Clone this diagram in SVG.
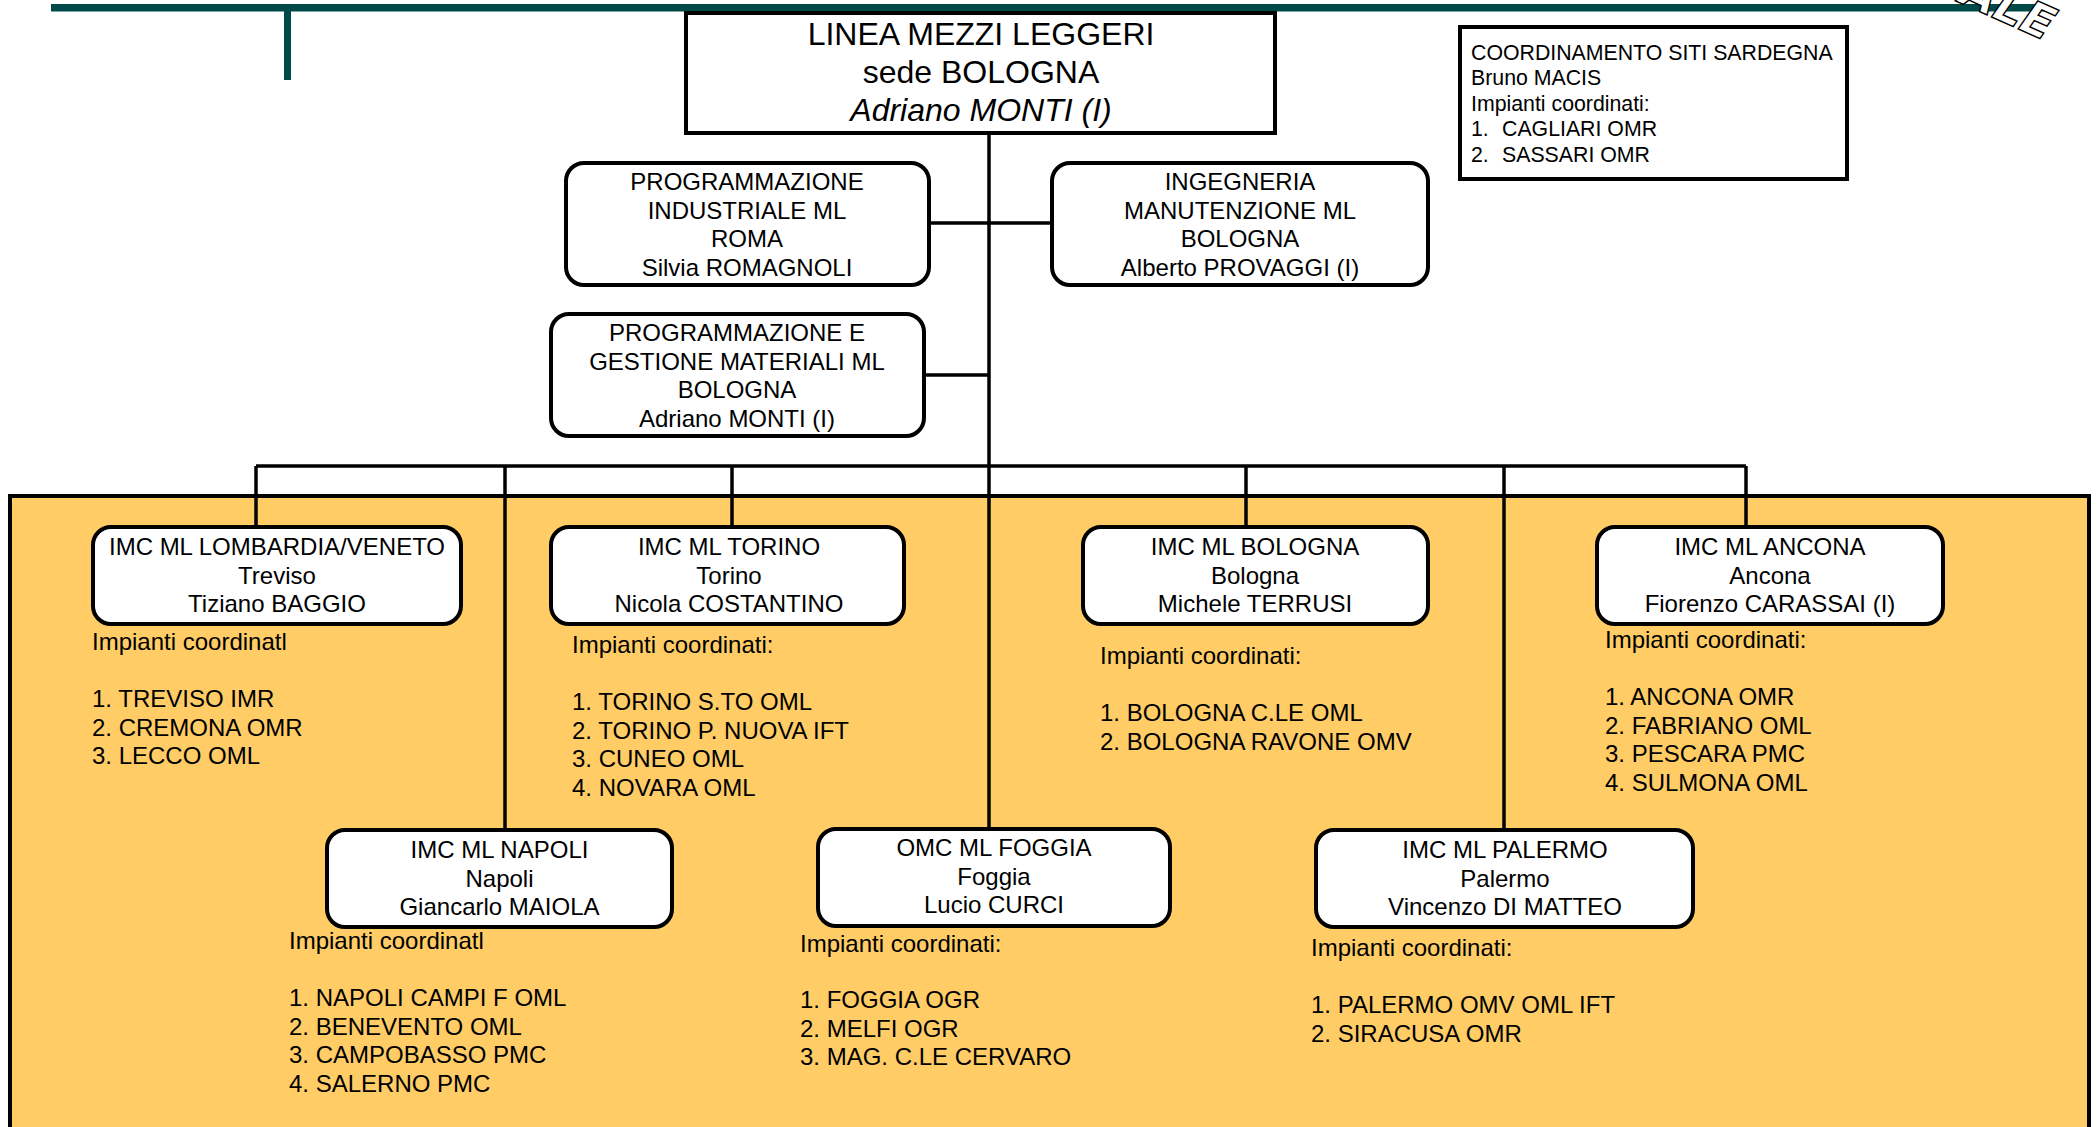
<svg xmlns="http://www.w3.org/2000/svg" width="2099" height="1127" viewBox="0 0 2099 1127">
<style>
  text { font-family: "Liberation Sans", Arial, sans-serif; fill: #000; }
  .t32 { font-size: 32px; text-anchor: middle; }
  .t24 { font-size: 24px; }
  .c { text-anchor: middle; }
  .t21 { font-size: 21.3px; }
  .box { fill: #fff; stroke: #000; stroke-width: 4; }
  .rbox { fill: #fff; stroke: #000; stroke-width: 4; }
  .conn { stroke: #000; stroke-width: 3.5; fill: none; }
  .teal { fill: #004A4A; }
  .logo { font-family: "DejaVu Sans", sans-serif; font-size: 46px; font-weight: bold; font-style: italic; fill: #fff; stroke: #000; stroke-width: 1.4; }
</style>
<rect width="2099" height="1127" fill="#fff"/>
<!-- header band -->
<rect class="teal" x="51" y="4" width="1995" height="7.5"/>
<rect class="teal" x="284" y="11" width="7" height="69"/>
<text class="logo" transform="translate(1958,2) rotate(24)">ALE</text>
<!-- orange area -->
<rect x="10" y="496" width="2079" height="660" fill="#FFCC66" stroke="#000" stroke-width="4"/>

<g id="connectors">
  <line class="conn" x1="989" y1="134" x2="989" y2="829"/>
  <line class="conn" x1="929" y1="223" x2="1052" y2="223"/>
  <line class="conn" x1="924" y1="375" x2="989" y2="375"/>
  <line class="conn" x1="256" y1="466" x2="1746" y2="466"/>
  <line class="conn" x1="256" y1="466" x2="256" y2="527"/>
  <line class="conn" x1="505" y1="466" x2="505" y2="829"/>
  <line class="conn" x1="732" y1="466" x2="732" y2="527"/>
  <line class="conn" x1="1246" y1="466" x2="1246" y2="527"/>
  <line class="conn" x1="1504" y1="466" x2="1504" y2="829"/>
  <line class="conn" x1="1746" y1="466" x2="1746" y2="527"/>
</g>

<g id="linea">
  <rect class="box" x="686" y="13" width="589" height="120"/>
  <text class="t32" x="981" y="45">LINEA MEZZI LEGGERI</text>
  <text class="t32" x="981" y="83">sede BOLOGNA</text>
  <text class="t32" x="981" y="121" font-style="italic">Adriano MONTI (I)</text>
</g>

<g id="coord-sardegna">
  <rect class="box" x="1460" y="27" width="387" height="152"/>
  <text class="t21" x="1471" y="60">COORDINAMENTO SITI SARDEGNA</text>
  <text class="t21" x="1471" y="85">Bruno MACIS</text>
  <text class="t21" x="1471" y="111">Impianti coordinati:</text>
  <text class="t21" x="1471" y="136">1.</text><text class="t21" x="1502" y="136">CAGLIARI OMR</text>
  <text class="t21" x="1471" y="162">2.</text><text class="t21" x="1502" y="162">SASSARI OMR</text>
</g>

<g id="prog-ind">
  <rect class="rbox" x="566" y="163" width="363" height="122" rx="18"/>
  <text class="t24 c" x="747" y="190">PROGRAMMAZIONE</text>
  <text class="t24 c" x="747" y="218.5">INDUSTRIALE ML</text>
  <text class="t24 c" x="747" y="247">ROMA</text>
  <text class="t24 c" x="747" y="276">Silvia ROMAGNOLI</text>
</g>

<g id="ingegneria">
  <rect class="rbox" x="1052" y="163" width="376" height="122" rx="18"/>
  <text class="t24 c" x="1240" y="190">INGEGNERIA</text>
  <text class="t24 c" x="1240" y="218.5">MANUTENZIONE ML</text>
  <text class="t24 c" x="1240" y="247">BOLOGNA</text>
  <text class="t24 c" x="1240" y="276">Alberto PROVAGGI (I)</text>
</g>

<g id="prog-mat">
  <rect class="rbox" x="551" y="314" width="373" height="122" rx="18"/>
  <text class="t24 c" x="737" y="341">PROGRAMMAZIONE E</text>
  <text class="t24 c" x="737" y="369.5">GESTIONE MATERIALI ML</text>
  <text class="t24 c" x="737" y="398">BOLOGNA</text>
  <text class="t24 c" x="737" y="426.5">Adriano MONTI (I)</text>
</g>

<g id="lombardia">
  <rect class="rbox" x="93" y="527" width="368" height="97" rx="18"/>
  <text class="t24 c" x="277" y="555">IMC ML LOMBARDIA/VENETO</text>
  <text class="t24 c" x="277" y="583.5">Treviso</text>
  <text class="t24 c" x="277" y="612">Tiziano BAGGIO</text>
  <text class="t24" x="92" y="650">Impianti coordinatl</text>
  <text class="t24" x="92" y="707">1. TREVISO IMR</text>
  <text class="t24" x="92" y="735.5">2. CREMONA OMR</text>
  <text class="t24" x="92" y="764">3. LECCO OML</text>
</g>

<g id="torino">
  <rect class="rbox" x="551" y="527" width="353" height="97" rx="18"/>
  <text class="t24 c" x="729" y="555">IMC ML TORINO</text>
  <text class="t24 c" x="729" y="583.5">Torino</text>
  <text class="t24 c" x="729" y="612">Nicola COSTANTINO</text>
  <text class="t24" x="572" y="653">Impianti coordinati:</text>
  <text class="t24" x="572" y="710">1. TORINO S.TO OML</text>
  <text class="t24" x="572" y="738.5">2. TORINO P. NUOVA IFT</text>
  <text class="t24" x="572" y="767">3. CUNEO OML</text>
  <text class="t24" x="572" y="795.5">4. NOVARA OML</text>
</g>

<g id="bologna">
  <rect class="rbox" x="1083" y="527" width="345" height="97" rx="18"/>
  <text class="t24 c" x="1255" y="555">IMC ML BOLOGNA</text>
  <text class="t24 c" x="1255" y="583.5">Bologna</text>
  <text class="t24 c" x="1255" y="612">Michele TERRUSI</text>
  <text class="t24" x="1100" y="664">Impianti coordinati:</text>
  <text class="t24" x="1100" y="721">1. BOLOGNA C.LE OML</text>
  <text class="t24" x="1100" y="749.5">2. BOLOGNA RAVONE OMV</text>
</g>

<g id="ancona">
  <rect class="rbox" x="1597" y="527" width="346" height="97" rx="18"/>
  <text class="t24 c" x="1770" y="555">IMC ML ANCONA</text>
  <text class="t24 c" x="1770" y="583.5">Ancona</text>
  <text class="t24 c" x="1770" y="612">Fiorenzo CARASSAI (I)</text>
  <text class="t24" x="1605" y="648">Impianti coordinati:</text>
  <text class="t24" x="1605" y="705">1. ANCONA OMR</text>
  <text class="t24" x="1605" y="733.5">2. FABRIANO OML</text>
  <text class="t24" x="1605" y="762">3. PESCARA PMC</text>
  <text class="t24" x="1605" y="790.5">4. SULMONA OML</text>
</g>

<g id="napoli">
  <rect class="rbox" x="327" y="830" width="345" height="97" rx="18"/>
  <text class="t24 c" x="499.5" y="858">IMC ML NAPOLI</text>
  <text class="t24 c" x="499.5" y="886.5">Napoli</text>
  <text class="t24 c" x="499.5" y="915">Giancarlo MAIOLA</text>
  <text class="t24" x="289" y="949">Impianti coordinatl</text>
  <text class="t24" x="289" y="1006">1. NAPOLI CAMPI F OML</text>
  <text class="t24" x="289" y="1034.5">2. BENEVENTO OML</text>
  <text class="t24" x="289" y="1063">3. CAMPOBASSO PMC</text>
  <text class="t24" x="289" y="1091.5">4. SALERNO PMC</text>
</g>

<g id="foggia">
  <rect class="rbox" x="818" y="829" width="352" height="97" rx="18"/>
  <text class="t24 c" x="994" y="856">OMC ML FOGGIA</text>
  <text class="t24 c" x="994" y="884.5">Foggia</text>
  <text class="t24 c" x="994" y="913">Lucio CURCI</text>
  <text class="t24" x="800" y="952">Impianti coordinati:</text>
  <text class="t24" x="800" y="1008">1. FOGGIA OGR</text>
  <text class="t24" x="800" y="1036.5">2. MELFI OGR</text>
  <text class="t24" x="800" y="1065">3. MAG. C.LE CERVARO</text>
</g>

<g id="palermo">
  <rect class="rbox" x="1316" y="830" width="377" height="97" rx="18"/>
  <text class="t24 c" x="1505" y="858">IMC ML PALERMO</text>
  <text class="t24 c" x="1505" y="886.5">Palermo</text>
  <text class="t24 c" x="1505" y="915">Vincenzo DI MATTEO</text>
  <text class="t24" x="1311" y="956">Impianti coordinati:</text>
  <text class="t24" x="1311" y="1013">1. PALERMO OMV OML IFT</text>
  <text class="t24" x="1311" y="1041.5">2. SIRACUSA OMR</text>
</g>
</svg>
